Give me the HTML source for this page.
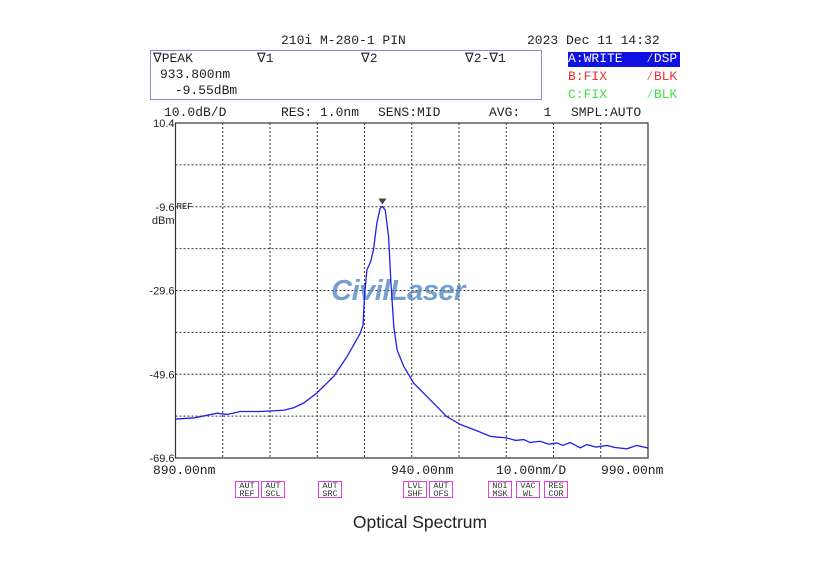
<!DOCTYPE html>
<html><head><meta charset="utf-8"><style>
body{margin:0;background:#fff;width:814px;height:578px;overflow:hidden;position:relative;font-family:"Liberation Mono",monospace;}
.t{position:absolute;font-size:13px;color:#222;white-space:pre;line-height:14px;}
.btn{position:absolute;top:481px;width:24px;height:17px;border:1.5px solid #e040e0;font-size:8.5px;line-height:8px;text-align:center;color:#333;box-sizing:border-box;padding-top:0px;}
</style></head><body>
<div class="t" style="left:281px;top:34px;">210i M-280-1 PIN</div>
<div class="t" style="left:527px;top:34px;">2023 Dec 11 14:32</div>
<div style="position:absolute;left:150px;top:50px;width:392px;height:50px;border:1.5px solid #9a7ee0;box-sizing:border-box;"></div>
<div class="t" style="left:153px;top:52px;">∇PEAK</div>
<div class="t" style="left:257px;top:52px;">∇1</div>
<div class="t" style="left:361px;top:52px;">∇2</div>
<div class="t" style="left:465px;top:52px;">∇2-∇1</div>
<div class="t" style="left:160px;top:68px;">933.800nm</div>
<div class="t" style="left:167px;top:84px;"> -9.55dBm</div>
<div class="t" style="left:568px;top:52px;width:112px;height:15px;background:#1010e0;color:#fff;">A:WRITE   ⁄DSP</div>
<div class="t" style="left:568px;top:70px;color:#f03030;">B:FIX     ⁄BLK</div>
<div class="t" style="left:568px;top:88px;color:#40e040;">C:FIX     ⁄BLK</div>
<div class="t" style="left:164px;top:106px;">10.0dB/D</div>
<div class="t" style="left:281px;top:106px;">RES: 1.0nm</div>
<div class="t" style="left:378px;top:106px;">SENS:MID</div>
<div class="t" style="left:489px;top:106px;">AVG:   1</div>
<div class="t" style="left:571px;top:106px;">SMPL:AUTO</div>

<svg id="chart" width="814" height="578" style="position:absolute;left:0;top:0;"></svg>

<div class="t" style="left:153px;top:464px;">890.00nm</div>
<div class="t" style="left:391px;top:464px;">940.00nm</div>
<div class="t" style="left:496px;top:464px;">10.00nm/D</div>
<div class="t" style="left:601px;top:464px;">990.00nm</div>
<div class="btn" style="left:235px;">AUT<br>REF</div>
<div class="btn" style="left:261px;">AUT<br>SCL</div>
<div class="btn" style="left:318px;">AUT<br>SRC</div>
<div class="btn" style="left:403px;">LVL<br>SHF</div>
<div class="btn" style="left:429px;">AUT<br>OFS</div>
<div class="btn" style="left:488px;">NOI<br>MSK</div>
<div class="btn" style="left:516px;">VAC<br>WL</div>
<div class="btn" style="left:544px;">RES<br>COR</div>
<div style="position:absolute;left:0;width:840px;top:512px;text-align:center;font-family:'Liberation Sans',sans-serif;font-size:17.5px;color:#222;">Optical Spectrum</div>

<script>
const wavelengths=[890,894,898.8,900.9,903.7,908,912.9,915,917.1,919.9,923.5,926.3,929.1,929.7,930,930.5,931.3,931.9,932.6,933.3,933.8,934.4,935.1,935.6,936.2,936.9,938.3,940.4,943.9,947.4,950.3,953.1,956.6,958,960.1,962,963.7,965,967.2,969,970.7,972,973.5,975.7,977,979,981.3,983,985.5,987.6,990];
const levels=[-60.3,-60,-58.9,-59.2,-58.5,-58.5,-58.2,-57.6,-56.5,-54.1,-50.1,-45.4,-39.8,-37.8,-31,-24.7,-22.7,-19.9,-13.6,-10,-9.55,-10.4,-16.8,-27.9,-38.2,-43.8,-47.7,-51.7,-55.7,-59.7,-61.6,-62.8,-64.4,-64.6,-64.8,-65.4,-65.2,-65.9,-65.6,-66.3,-66,-66.6,-65.9,-67.2,-66.4,-67,-66.6,-67.1,-67.4,-66.6,-67.2];
const yTicks=["10.4","","-9.6","","-29.6","","-49.6","","-69.6"];
const xMin=890,xMax=990,yMax=10.4,yMin=-69.6;
const L=175.5,R=648,T=123,B=458;
const sx=v=>L+(v-xMin)/(xMax-xMin)*(R-L);
const sy=v=>T+(yMax-v)/(yMax-yMin)*(B-T);
const svg=document.getElementById('chart');
const NS='http://www.w3.org/2000/svg';
function mk(tag,attrs){const e=document.createElementNS(NS,tag);for(const k in attrs)e.setAttribute(k,attrs[k]);svg.appendChild(e);return e;}
for(let i=1;i<10;i++){const x=L+i*(R-L)/10;const g=mk('line',{x1:x,x2:x,y1:T,y2:B,stroke:'#333','stroke-width':1,'stroke-dasharray':'2,2'});

}
for(let i=1;i<8;i++){const y=T+i*(B-T)/8;const g=mk('line',{x1:L,x2:R,y1:y,y2:y,stroke:'#333','stroke-width':1,'stroke-dasharray':'2,2'});

}
const fr=mk('rect',{x:L,y:T,width:R-L,height:B-T,fill:'none',stroke:'#333','stroke-width':1.2});


yTicks.forEach((t,i)=>{if(!t)return;const y=T+i*(B-T)/8;const e=mk('text',{x:L-1,y:y+4,'text-anchor':'end','font-size':11,'font-family':'Liberation Sans, sans-serif',fill:'#222'});e.textContent=t;

});
const ref=mk('text',{x:L+1,y:sy(-9.6)+2,'font-size':9,'font-family':'Liberation Mono, monospace',fill:'#222'});ref.textContent='REF';


const du=mk('text',{x:L-1,y:sy(-9.6)+17,'text-anchor':'end','font-size':11,'font-family':'Liberation Sans, sans-serif',fill:'#222'});du.textContent='dBm';


const wm=mk('text',{x:398,y:300,'text-anchor':'middle','font-size':29,'font-weight':'bold','font-style':'italic','font-family':'Liberation Sans, sans-serif',fill:'#4a7fc0','fill-opacity':0.75,'letter-spacing':'-0.5'});wm.textContent='CivilLaser';


const p=mk('polyline',{points:wavelengths.map((w,i)=>sx(w)+','+sy(levels[i])).join(' '),fill:'none',stroke:'#2020e8','stroke-width':1.3});


let pi=levels.indexOf(Math.max(...levels));const px=sx(wavelengths[pi]),py=sy(levels[pi]);
const mkr=mk('polygon',{points:`${px-4},${py-8} ${px+4},${py-8} ${px},${py-2}`,fill:'#444'});


</script>
</body></html>
